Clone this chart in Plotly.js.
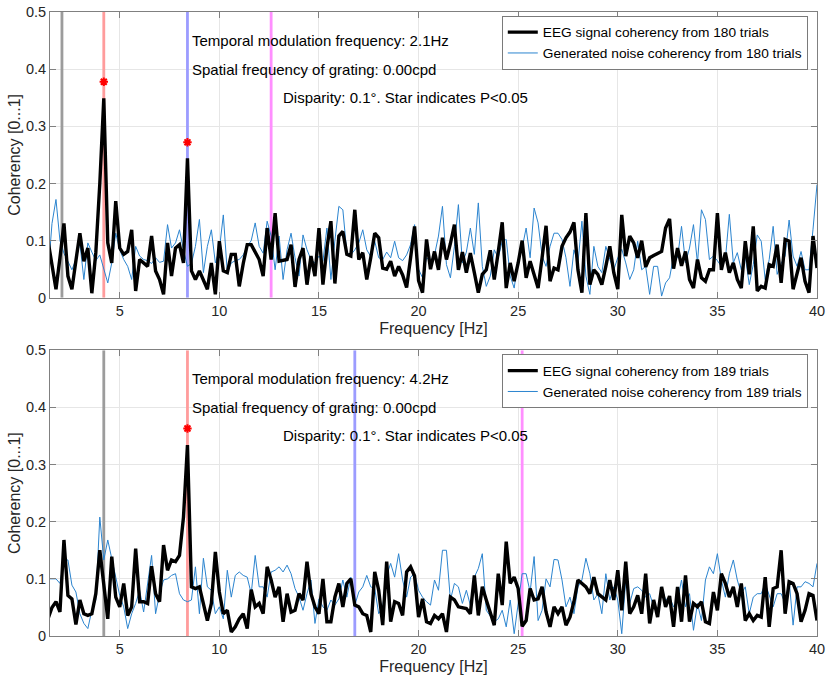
<!DOCTYPE html>
<html><head><meta charset="utf-8">
<script src="https://cdn.plot.ly/plotly-3.0.1.min.js"></script>
<style>html,body{margin:0;padding:0;background:#fff}#chart{width:829px;height:685px}</style>
</head><body><div id="chart"></div>
<script>
// Frequency grid [Hz]
const freqs = [
1.4,1.6,1.8,2.0,2.2,2.4,2.6,2.8,3.0,3.2,
3.4,3.6,3.8,4.0,4.2,4.4,4.6,4.8,5.0,5.2,
5.4,5.6,5.8,6.0,6.2,6.4,6.6,6.8,7.0,7.2,
7.4,7.6,7.8,8.0,8.2,8.4,8.6,8.8,9.0,9.2,
9.4,9.6,9.8,10.0,10.2,10.4,10.6,10.8,11.0,11.2,
11.4,11.6,11.8,12.0,12.2,12.4,12.6,12.8,13.0,13.2,
13.4,13.6,13.8,14.0,14.2,14.4,14.6,14.8,15.0,15.2,
15.4,15.6,15.8,16.0,16.2,16.4,16.6,16.8,17.0,17.2,
17.4,17.6,17.8,18.0,18.2,18.4,18.6,18.8,19.0,19.2,
19.4,19.6,19.8,20.0,20.2,20.4,20.6,20.8,21.0,21.2,
21.4,21.6,21.8,22.0,22.2,22.4,22.6,22.8,23.0,23.2,
23.4,23.6,23.8,24.0,24.2,24.4,24.6,24.8,25.0,25.2,
25.4,25.6,25.8,26.0,26.2,26.4,26.6,26.8,27.0,27.2,
27.4,27.6,27.8,28.0,28.2,28.4,28.6,28.8,29.0,29.2,
29.4,29.6,29.8,30.0,30.2,30.4,30.6,30.8,31.0,31.2,
31.4,31.6,31.8,32.0,32.2,32.4,32.6,32.8,33.0,33.2,
33.4,33.6,33.8,34.0,34.2,34.4,34.6,34.8,35.0,35.2,
35.4,35.6,35.8,36.0,36.2,36.4,36.6,36.8,37.0,37.2,
37.4,37.6,37.8,38.0,38.2,38.4,38.6,38.8,39.0,39.2,
39.4,39.6,39.8,40.0];

// Top panel (2.1 Hz, 180 trials)
const topEEG = [
0.10,0.06,0.015,0.07,0.13,0.038,0.015,0.065,0.113,0.064,
0.087,0.008,0.079,0.2,0.349,0.096,0.061,0.169,0.087,0.076,
0.081,0.119,0.012,0.067,0.06,0.055,0.108,0.047,0.032,0.006,
0.096,0.038,0.087,0.093,0.061,0.244,0.047,0.032,0.047,0.032,
0.015,0.061,0.006,0.099,0.047,0.044,0.076,0.076,0.02,0.06,
0.093,0.093,0.079,0.067,0.038,0.122,0.067,0.148,0.064,0.065,
0.067,0.093,0.019,0.067,0.087,0.023,0.073,0.038,0.122,0.023,
0.087,0.134,0.025,0.108,0.116,0.076,0.073,0.154,0.067,0.079,
0.032,0.07,0.113,0.105,0.052,0.05,0.064,0.038,0.055,0.04,
0.018,0.07,0.125,0.03,0.009,0.102,0.05,0.081,0.049,0.105,
0.067,0.095,0.128,0.049,0.08,0.044,0.078,0.044,0.009,0.041,
0.049,0.083,0.032,0.08,0.132,0.017,0.061,0.029,0.061,0.1,
0.035,0.064,0.04,0.017,0.07,0.126,0.029,0.052,0.049,0.09,
0.105,0.115,0.132,0.049,0.009,0.148,0.023,0.049,0.041,0.023,
0.055,0.09,0.044,0.015,0.145,0.073,0.108,0.096,0.07,0.10,
0.054,0.07,0.074,0.077,0.081,0.122,0.138,0.051,0.087,0.056,
0.081,0.032,0.017,0.067,0.035,0.029,0.049,0.049,0.148,0.049,
0.079,0.044,0.061,0.032,0.017,0.099,0.041,0.125,0.012,0.02,
0.017,0.058,0.055,0.093,0.026,0.102,0.099,0.015,0.041,0.07,
0.029,0.009,0.108,0.052];
const topNoise = [
0.04,0.13,0.172,0.10,0.078,0.064,0.049,0.067,0.096,0.032,
0.096,0.08,0.065,0.075,0.049,0.026,0.061,0.113,0.084,0.067,
0.055,0.032,0.09,0.073,0.067,0.065,0.06,0.07,0.062,0.064,
0.128,0.087,0.096,0.119,0.084,0.055,0.06,0.09,0.137,0.044,
0.09,0.119,0.061,0.084,0.145,0.044,0.061,0.065,0.067,0.075,
0.09,0.1,0.131,0.09,0.078,0.134,0.108,0.049,0.108,0.032,
0.084,0.113,0.07,0.038,0.11,0.084,0.067,0.061,0.073,0.064,
0.122,0.032,0.1,0.16,0.154,0.079,0.075,0.084,0.096,0.119,
0.084,0.072,0.099,0.07,0.067,0.08,0.07,0.099,0.07,0.065,
0.075,0.093,0.128,0.05,0.035,0.07,0.064,0.075,0.108,0.16,
0.058,0.035,0.09,0.163,0.061,0.08,0.122,0.076,0.166,0.055,
0.02,0.038,0.084,0.07,0.099,0.102,0.038,0.017,0.067,0.087,
0.122,0.07,0.157,0.131,0.073,0.055,0.09,0.113,0.113,0.102,
0.07,0.02,0.084,0.061,0.134,0.038,0.006,0.09,0.055,0.044,
0.09,0.067,0.049,0.07,0.085,0.061,0.032,0.049,0.099,0.049,
0.055,0.006,0.055,0.055,0.003,0.026,0.035,0.073,0.07,0.125,
0.061,0.087,0.128,0.061,0.154,0.137,0.067,0.073,0.065,0.055,
0.067,0.146,0.061,0.079,0.049,0.073,0.023,0.058,0.11,0.099,
0.032,0.067,0.125,0.041,0.06,0.073,0.136,0.073,0.055,0.081,
0.049,0.049,0.12,0.198];

// Bottom panel (4.2 Hz, 189 trials)
const botEEG = [
0.03,0.05,0.06,0.042,0.168,0.071,0.065,0.02,0.063,0.039,
0.036,0.039,0.074,0.15,0.09,0.03,0.139,0.068,0.051,0.092,
0.036,0.051,0.153,0.06,0.06,0.057,0.122,0.074,0.06,0.159,
0.115,0.133,0.13,0.141,0.208,0.334,0.086,0.083,0.086,0.054,
0.027,0.057,0.147,0.077,0.039,0.045,0.007,0.016,0.03,0.039,
0.013,0.081,0.051,0.057,0.039,0.121,0.098,0.068,0.086,0.025,
0.074,0.042,0.045,0.074,0.063,0.13,0.074,0.051,0.039,0.1,
0.025,0.025,0.068,0.092,0.051,0.092,0.10,0.054,0.051,0.039,
0.036,0.007,0.112,0.08,0.019,0.13,0.025,0.06,0.057,0.036,
0.112,0.121,0.105,0.033,0.065,0.025,0.022,0.036,0.03,0.039,
0.007,0.068,0.063,0.051,0.05,0.048,0.039,0.106,0.036,0.086,
0.063,0.039,0.019,0.109,0.054,0.165,0.092,0.103,0.083,0.017,
0.027,0.083,0.063,0.065,0.086,0.042,0.016,0.051,0.039,0.051,
0.019,0.033,0.06,0.098,0.092,0.086,0.074,0.103,0.074,0.068,
0.063,0.098,0.063,0.115,0.045,0.13,0.039,0.051,0.071,0.039,
0.109,0.022,0.063,0.033,0.086,0.051,0.07,0.016,0.086,0.025,
0.106,0.025,0.057,0.051,0.06,0.025,0.022,0.077,0.045,0.109,
0.092,0.068,0.086,0.051,0.092,0.027,0.039,0.027,0.036,0.033,
0.103,0.016,0.083,0.086,0.15,0.039,0.095,0.092,0.074,0.025,
0.045,0.074,0.071,0.027];
const botNoise = [
0.1,0.1,0.1,0.092,0.133,0.133,0.089,0.077,0.039,0.022,
0.013,0.045,0.063,0.208,0.133,0.168,0.133,0.103,0.071,0.051,
0.013,0.039,0.057,0.08,0.042,0.09,0.141,0.039,0.074,0.098,
0.1,0.106,0.109,0.074,0.063,0.06,0.063,0.121,0.039,0.136,
0.086,0.08,0.039,0.051,0.03,0.115,0.068,0.106,0.112,0.106,
0.103,0.074,0.141,0.086,0.086,0.068,0.112,0.115,0.121,0.112,
0.124,0.109,0.083,0.068,0.045,0.074,0.098,0.022,0.065,0.051,
0.045,0.063,0.054,0.065,0.098,0.068,0.103,0.054,0.077,0.086,
0.106,0.086,0.083,0.039,0.051,0.106,0.127,0.103,0.144,0.098,
0.068,0.103,0.109,0.08,0.068,0.06,0.054,0.098,0.08,0.15,
0.15,0.063,0.092,0.086,0.057,0.08,0.054,0.103,0.118,0.144,
0.045,0.035,0.025,0.03,0.045,0.016,0.063,0.004,0.057,0.109,
0.109,0.077,0.139,0.027,0.045,0.1,0.086,0.134,0.133,0.098,
0.051,0.068,0.039,0.086,0.098,0.136,0.109,0.063,0.074,0.039,
0.109,0.063,0.086,0.063,0.004,0.098,0.057,0.083,0.086,0.08,
0.068,0.074,0.051,0.039,0.086,0.063,0.068,0.051,0.063,0.098,
0.051,0.074,0.01,0.057,0.027,0.098,0.121,0.109,0.144,0.098,
0.068,0.109,0.133,0.098,0.074,0.086,0.039,0.068,0.074,0.074,
0.092,0.071,0.051,0.074,0.074,0.057,0.098,0.019,0.086,0.086,
0.095,0.092,0.086,0.127];

// Stimulus frequency and harmonics marked by vertical lines
const topMarkFreqs = [2.1, 4.2, 8.4, 12.6];
const botMarkFreqs = [4.2, 8.4, 16.8, 25.2];
const markColors = ['#9c9c9c', '#ff9c9c', '#9c9cff', '#ff8fff'];
// Significant points (star markers)
const topStarFreqs = [4.2, 8.4], topStarVals = [0.378, 0.272];
const botStarFreqs = [8.4], botStarVals = [0.363];
const topTrials = 180, botTrials = 189;
const topTemporal = '2.1', botTemporal = '4.2';
const yTicks = [0, 0.1, 0.2, 0.3, 0.4, 0.5];
const xTicks = [5, 10, 15, 20, 25, 30, 35, 40];

const F = 'Liberation Sans, Arial, Helvetica, sans-serif';
const traces = [];
function addPanel(xa, ya, legendId, markFreqs, eeg, noise, starF, starV, trials){
  markFreqs.forEach((f, i) => {
    traces.push({x:[f, f], y:[yTicks[0], yTicks[yTicks.length-1]], xaxis:xa, yaxis:ya, mode:'lines',
      line:{color:markColors[i], width:2.8}, showlegend:false, hoverinfo:'skip'});
  });
  traces.push({x:freqs, y:noise, xaxis:xa, yaxis:ya, mode:'lines', legend:legendId, legendrank:2,
    name:'Generated noise coherency from ' + trials + ' trials', line:{color:'#2b84cf', width:1}});
  traces.push({x:freqs, y:eeg, xaxis:xa, yaxis:ya, mode:'lines', legend:legendId, legendrank:1,
    name:'EEG signal coherency from ' + trials + ' trials', line:{color:'#000000', width:3.4}});
  traces.push({x:starF, y:starV, xaxis:xa, yaxis:ya, mode:'markers', showlegend:false,
    marker:{symbol:'asterisk-open', size:7, color:'#ff0000', line:{color:'#ff0000', width:2}}});
}
addPanel('x', 'y', 'legend', topMarkFreqs, topEEG, topNoise, topStarFreqs, topStarVals, topTrials);
addPanel('x2', 'y2', 'legend2', botMarkFreqs, botEEG, botNoise, botStarFreqs, botStarVals, botTrials);

function xax(anchor){
  return {domain:[0,1], range:[1.5,40], tickvals:xTicks, ticks:'inside', ticklen:6, tickcolor:'#808080', tickwidth:1,
    showline:true, linecolor:'#808080', linewidth:1, mirror:'ticks', showgrid:true, gridcolor:'#e6e6e6', zeroline:false,
    tickfont:{family:F, size:14.5, color:'#262626'}, anchor:anchor,
    title:{text:'Frequency [Hz]', font:{family:F, size:16, color:'#262626'}, standoff:4}};
}
function yax(domain, anchor){
  return {domain:domain, range:[0,0.5], tickvals:yTicks, ticks:'inside', ticklen:6, tickcolor:'#808080', tickwidth:1,
    showline:true, linecolor:'#808080', linewidth:1, mirror:'ticks', showgrid:true, gridcolor:'#e6e6e6', zeroline:false,
    tickfont:{family:F, size:14.5, color:'#262626'}, anchor:anchor,
    title:{text:'Coherency [0...1]', font:{family:F, size:16, color:'#262626'}, standoff:1}};
}
function notes(xr, yr, temporal){
  const base = {xref:xr, yref:yr, showarrow:false, xanchor:'left', yanchor:'middle', font:{family:F, size:15, color:'#000'}};
  return [
    Object.assign({x:8.55, y:0.45, text:'Temporal modulation frequency: ' + temporal + 'Hz'}, base),
    Object.assign({x:8.55, y:0.40, text:'Spatial frequency of grating: 0.00cpd'}, base),
    Object.assign({x:13.07, y:0.35, text:'Disparity: 0.1°. Star indicates P<0.05'}, base)
  ];
}
const legendBase = {xanchor:'right', yanchor:'top', bordercolor:'#7a7a7a', borderwidth:1, bgcolor:'#ffffff',
  font:{family:F, size:13.7, color:'#000'}, itemwidth:30, tracegroupgap:0};
const layout = {
  width:829, height:685, margin:{l:50, r:11.5, t:12, b:49},
  paper_bgcolor:'#ffffff', plot_bgcolor:'#ffffff', showlegend:true,
  xaxis:xax('y'), xaxis2:xax('y2'),
  yaxis:yax([0.542,1], 'x'), yaxis2:yax([0,0.458], 'x2'),
  legend:Object.assign({x:0.988, y:0.994}, legendBase),
  legend2:Object.assign({x:0.988, y:0.4515}, legendBase),
  annotations:notes('x','y',topTemporal).concat(notes('x2','y2',botTemporal))
};
Plotly.newPlot('chart', traces, layout, {displayModeBar:false, staticPlot:true});
</script></body></html>
